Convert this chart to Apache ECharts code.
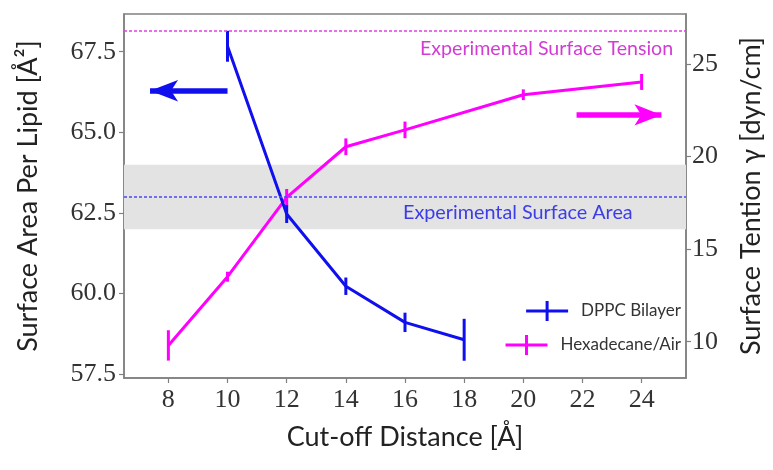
<!DOCTYPE html>
<html>
<head>
<meta charset="utf-8">
<script src="https://cdn.jsdelivr.net/npm/echarts@6/dist/echarts.min.js"></script>
<style>
html,body{margin:0;padding:0;background:#fff;}
#chart{width:773px;height:470px;}
</style>
</head>
<body>
<div id="chart"></div>
<script>
// ---- data ----
const cutoffBilayer = [10, 12, 14, 16, 18];
const areaPerLipid = [67.67, 62.47, 60.23, 59.11, 58.57];
const areaErr = [0.48, 0.28, 0.27, 0.30, 0.65];

const cutoffHexa = [8, 10, 12, 14, 16, 20, 24];
const tension = [9.8, 13.51, 17.8, 20.53, 21.44, 23.34, 24.03];
const tensionErr = [0.82, 0.27, 0.45, 0.45, 0.45, 0.29, 0.43];

const xTicks = [8, 10, 12, 14, 16, 18, 20, 22, 24];
const leftTicks = [57.5, 60.0, 62.5, 65.0, 67.5];
const rightTicks = [10, 15, 20, 25];

const expArea = 63.0;
const expAreaBand = [62, 64];
const expTension = 26.8;

const blue = '#1010ee';
const magenta = '#ff00ff';
const axisGray = '#808080';

const bilayerPts = cutoffBilayer.map((x, i) => [x, areaPerLipid[i]]);
const bilayerErr = cutoffBilayer.map((x, i) => [x, areaPerLipid[i], areaErr[i]]);
const hexaPts = cutoffHexa.map((x, i) => [x, tension[i]]);
const hexaErr = cutoffHexa.map((x, i) => [x, tension[i], tensionErr[i]]);

function errRender(color) {
  return function (params, api) {
    const x = api.value(0), y = api.value(1), e = api.value(2);
    const p1 = api.coord([x, y - e]);
    const p2 = api.coord([x, y + e]);
    return {
      type: 'line',
      shape: { x1: p1[0], y1: p1[1], x2: p2[0], y2: p2[1] },
      style: { stroke: color, lineWidth: 3 }
    };
  };
}

const tickLabelStyle = { fontFamily: 'Liberation Serif', fontSize: 26, color: '#333' };
const titleStyle = { fontFamily: 'Lato', fontSize: 27, color: '#222' };
const plusIcon = 'path://M0,8.5 L42,8.5 L42,11.5 L0,11.5 Z M19.5,0 L22.5,0 L22.5,20 L19.5,20 Z';

const chart = echarts.init(document.getElementById('chart'));
chart.setOption({
  animation: false,
  backgroundColor: '#fff',
  grid: { left: 124, right: 87, top: 14, bottom: 92, show: true, borderColor: axisGray, borderWidth: 1.5, backgroundColor: 'transparent' },
  legend: [
    {
      data: [{ name: 'DPPC Bilayer', icon: plusIcon, itemStyle: { color: blue } }],
      right: 87, top: 296, itemWidth: 42, itemHeight: 20,
      textStyle: { fontFamily: 'Lato', fontSize: 17, color: '#333', padding: [0, 0, 0, 8] },
      selectedMode: false
    },
    {
      data: [{ name: 'Hexadecane/Air', icon: plusIcon, itemStyle: { color: magenta } }],
      right: 87, top: 330, itemWidth: 42, itemHeight: 20,
      textStyle: { fontFamily: 'Lato', fontSize: 17, color: '#333', padding: [0, 0, 0, 8] },
      selectedMode: false
    }
  ],
  xAxis: {
    type: 'value', min: 6.5, max: 25.5,
    name: 'Cut-off Distance [Å]', nameLocation: 'middle', nameGap: 46,
    nameTextStyle: titleStyle,
    axisLine: { show: true, lineStyle: { color: axisGray, width: 1.5 } },
    axisTick: { show: true, length: 5, customValues: xTicks, lineStyle: { color: axisGray, width: 1.2 } },
    axisLabel: { customValues: xTicks, margin: 9, ...tickLabelStyle },
    splitLine: { show: false }
  },
  yAxis: [
    {
      type: 'value', min: 57.385, max: 68.67, position: 'left',
      name: 'Surface Area Per Lipid [Å²]', nameLocation: 'middle', nameGap: 82, nameRotate: 90,
      nameTextStyle: titleStyle,
      axisLine: { show: true, lineStyle: { color: axisGray, width: 1.5 } },
      axisTick: { show: true, length: 5, customValues: leftTicks, lineStyle: { color: axisGray, width: 1.2 } },
      axisLabel: { customValues: leftTicks, margin: 8, formatter: v => v.toFixed(1), ...tickLabelStyle },
      splitLine: { show: false }
    },
    {
      type: 'value', min: 8.04, max: 27.7, position: 'right',
      name: 'Surface Tention γ [dyn/cm]', nameLocation: 'middle', nameGap: 52, nameRotate: 90,
      nameTextStyle: titleStyle,
      axisLine: { show: true, lineStyle: { color: axisGray, width: 1.5 } },
      axisTick: { show: true, length: 5, customValues: rightTicks, lineStyle: { color: axisGray, width: 1.2 } },
      axisLabel: { customValues: rightTicks, margin: 6, ...tickLabelStyle },
      splitLine: { show: false }
    }
  ],
  series: [
    {
      name: 'bandLeft', type: 'line', yAxisIndex: 0, data: [], z: 1, silent: true,
      markArea: {
        silent: true,
        itemStyle: { color: '#e3e3e3' },
        data: [[{ yAxis: expAreaBand[0] }, { yAxis: expAreaBand[1] }]]
      },
      markLine: {
        silent: true, symbol: 'none', animation: false,
        label: { show: false },
        data: [
          { yAxis: expArea, lineStyle: { color: '#4a4af0', type: [3, 2], width: 1.5 } },
          [
            { coord: [10.0, 66.29], symbol: 'none' },
            { coord: [7.38, 66.29], symbol: 'arrow', symbolSize: [16, 28] }
          ]
        ],
        lineStyle: { color: blue, width: 5.5, type: 'solid' }
      }
    },
    {
      name: 'bandRight', type: 'line', yAxisIndex: 1, data: [], z: 1, silent: true,
      markLine: {
        silent: true, symbol: 'none', animation: false,
        label: { show: false },
        data: [
          { yAxis: expTension, lineStyle: { color: '#e040e0', type: [3, 2], width: 1.5 } },
          [
            { coord: [21.8, 22.25], symbol: 'none' },
            { coord: [24.67, 22.25], symbol: 'arrow', symbolSize: [16, 27] }
          ]
        ],
        lineStyle: { color: magenta, width: 5.5, type: 'solid' }
      }
    },
    {
      name: 'DPPC Bilayer', type: 'line', yAxisIndex: 0, data: bilayerPts,
      showSymbol: false, symbol: 'none', z: 4,
      lineStyle: { color: blue, width: 3 }, itemStyle: { color: blue }
    },
    {
      name: 'DPPC Bilayer', type: 'custom', yAxisIndex: 0, data: bilayerErr,
      encode: { x: 0, y: 1 }, renderItem: errRender(blue), z: 4, itemStyle: { color: blue }
    },
    {
      name: 'Hexadecane/Air', type: 'line', yAxisIndex: 1, data: hexaPts,
      showSymbol: false, symbol: 'none', z: 3,
      lineStyle: { color: magenta, width: 3 }, itemStyle: { color: magenta }
    },
    {
      name: 'Hexadecane/Air', type: 'custom', yAxisIndex: 1, data: hexaErr,
      encode: { x: 0, y: 1 }, renderItem: errRender(magenta), z: 3, itemStyle: { color: magenta }
    }
  ],
  graphic: [
    {
      type: 'text', left: 420, top: 39, z: 10,
      style: { text: 'Experimental Surface Tension', fontFamily: 'Lato', fontSize: 19.6, fill: '#d23cd2' }
    },
    {
      type: 'text', left: 403, top: 203, z: 10,
      style: { text: 'Experimental Surface Area', fontFamily: 'Lato', fontSize: 19.8, fill: '#3c3ce8' }
    }
  ]
});
</script>
</body>
</html>
